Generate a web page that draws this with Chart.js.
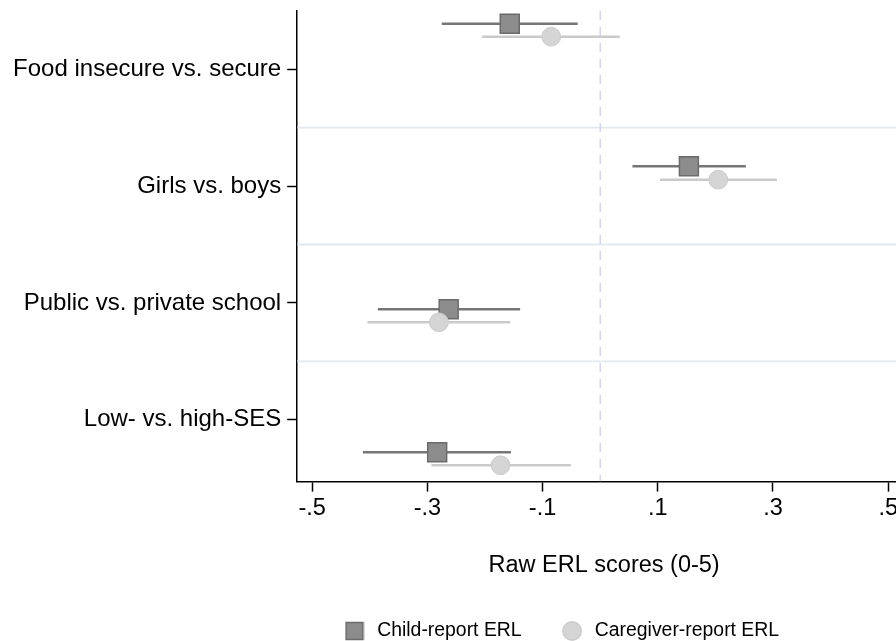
<!DOCTYPE html>
<html>
<head>
<meta charset="utf-8">
<script src="https://cdn.jsdelivr.net/npm/chart.js@4.4.0/dist/chart.umd.min.js"></script>
<style>
html, body { margin: 0; padding: 0; background: #fff; overflow: hidden; }
/* the original plot runs on past the right edge of the picture */
#wrap { width: 911px; height: 641px; }
</style>
</head>
<body>
<div id="wrap"><canvas id="chart" width="911" height="641"></canvas></div>
<script>
// rows on the y axis (0 at top, one unit per group)
var categories = ['Food insecure vs. secure', 'Girls vs. boys', 'Public vs. private school', 'Low- vs. high-SES']
var categoryPos = [0.5, 1.5, 2.5, 3.5]
var separatorPos = [1, 2, 3]

var seriesNames = ['Child-report ERL', 'Caregiver-report ERL']

// child report: estimate, CI low, CI high, row position
var childEst = [-0.157, 0.154, -0.263, -0.283]
var childLo = [-0.275, 0.056, -0.386, -0.412]
var childHi = [-0.039, 0.253, -0.139, -0.155]
var childPos = [0.11, 1.33, 2.555, 3.779]

// caregiver report
var careEst = [-0.085, 0.205, -0.280, -0.173]
var careLo = [-0.205, 0.104, -0.404, -0.293]
var careHi = [0.034, 0.307, -0.156, -0.051]
var carePos = [0.221, 1.445, 2.666, 3.89]

var xTickValues = [-0.5, -0.3, -0.1, 0.1, 0.3, 0.5]
var xTickLabels = ['-.5', '-.3', '-.1', '.1', '.3', '.5']
var refLine = 0

var xMin = -0.526
var xMax = 0.5396
var yMin = 0
var yMax = 4.03

var font = '"Liberation Sans", Arial, Helvetica, sans-serif'
var darkFill = '#8c8c8c'
var darkEdge = '#6b6b6b'
var darkLine = '#767676'
var lightFill = '#d5d5d5'
var lightEdge = '#cbcbcb'
var lightLine = '#cacaca'
var legendFont = 19.4

function points(xs, ys) {
    return xs.map((x, i) => ({x: x, y: ys[i]}))
}

function segments(lo, hi, pos) {
    var pts = []
    lo.forEach((v, i) => {
        pts.push({x: v, y: pos[i]}, {x: hi[i], y: pos[i]}, {x: null, y: null})
    })
    return pts
}

function icon(kind) {
    var c = document.createElement('canvas')
    c.width = 20
    c.height = 20
    var g = c.getContext('2d')
    g.lineWidth = 1.5
    if (kind === 'rect') {
        g.fillStyle = darkFill
        g.strokeStyle = darkEdge
        g.fillRect(1, 1, 18, 18)
        g.strokeRect(1.5, 1.5, 17, 17)
    } else {
        g.fillStyle = lightFill
        g.strokeStyle = lightEdge
        g.beginPath()
        g.arc(10, 10, 9.2, 0, Math.PI * 2)
        g.fill()
        g.stroke()
    }
    return c
}

// put the legend where the original has it (left of centre, at the bottom edge)
var legendShift = {
    id: 'legendShift',
    afterLayout: function (chart) {
        var lg = chart.legend
        var pad = lg.options.labels.padding
        var x0 = (lg.left + pad + lg.right - lg.lineWidths[0]) / 2
        var dx = 341.5 - x0
        lg.left += dx
        lg.right += dx
        var dy = 631 - (lg.top + pad + legendFont / 2)
        lg.top += dy
        lg.bottom += dy
    }
}

var sqIcon = icon('rect')
var ciIcon = icon('circle')

new Chart(document.getElementById('chart'), {
    type: 'scatter',
    data: {
        datasets: [
            {
                label: 'sep',
                data: separatorPos.flatMap(p => [{x: xMin, y: p}, {x: xMax, y: p}, {x: null, y: null}]),
                showLine: true, borderColor: '#e3e9ed', borderWidth: 1.8,
                pointRadius: 0, pointHoverRadius: 0, order: 10
            },
            {
                label: 'zero',
                data: [{x: refLine, y: yMin}, {x: refLine, y: yMax}],
                showLine: true, borderColor: '#c9c9e6', borderWidth: 1.2, borderDash: [9, 7],
                pointRadius: 0, pointHoverRadius: 0, order: 9
            },
            {
                label: 'childCI',
                data: segments(childLo, childHi, childPos),
                showLine: true, borderColor: darkLine, borderWidth: 2.5,
                pointRadius: 0, pointHoverRadius: 0, order: 8
            },
            {
                label: seriesNames[0],
                data: points(childEst, childPos),
                pointStyle: 'rect', pointRadius: 13.4, pointHoverRadius: 13.4,
                backgroundColor: darkFill, borderColor: darkEdge, borderWidth: 1.5, order: 7
            },
            {
                label: 'careCI',
                data: segments(careLo, careHi, carePos),
                showLine: true, borderColor: lightLine, borderWidth: 2.5,
                pointRadius: 0, pointHoverRadius: 0, order: 6
            },
            {
                label: seriesNames[1],
                data: points(careEst, carePos),
                pointStyle: 'circle', pointRadius: 9.4, pointHoverRadius: 9.4,
                backgroundColor: lightFill, borderColor: lightEdge, borderWidth: 1, order: 5
            }
        ]
    },
    options: {
        responsive: false,
        animation: false,
        devicePixelRatio: 1,
        layout: {autoPadding: false, padding: {top: 10.9, left: 0, right: 0, bottom: 0}},
        scales: {
            x: {
                type: 'linear',
                min: xMin,
                max: xMax,
                afterBuildTicks: function (scale) {
                    scale.ticks = xTickValues.map(v => ({value: v}))
                },
                afterFit: function (scale) {
                    scale.height = 641 - scale.chart.legend.height - 481.6
                    scale.paddingLeft = 0
                    scale.paddingRight = 0
                },
                ticks: {
                    autoSkip: false, maxRotation: 0, padding: 3, color: '#000',
                    font: {family: font, size: 23.5},
                    callback: function (v) { return xTickLabels[xTickValues.indexOf(v)] }
                },
                grid: {drawOnChartArea: false, tickLength: 10, tickColor: '#000', tickWidth: 1.5},
                border: {color: '#000', width: 1.5},
                title: {
                    display: true, text: 'Raw ERL scores (0-5)', color: '#000',
                    font: {family: font, size: 23.5, lineHeight: 1},
                    padding: {top: 0, bottom: -3}
                }
            },
            y: {
                type: 'linear',
                reverse: true,
                min: yMin,
                max: yMax,
                afterBuildTicks: function (scale) {
                    scale.ticks = categoryPos.map(v => ({value: v}))
                },
                afterFit: function (scale) {
                    scale.width = 297.2
                    scale.paddingTop = 0
                    scale.paddingBottom = 0
                },
                ticks: {
                    autoSkip: false, padding: 6, color: '#000',
                    font: {family: font, size: 24},
                    callback: function (v) { return categories[categoryPos.indexOf(v)] }
                },
                grid: {drawOnChartArea: false, tickLength: 10, tickColor: '#000', tickWidth: 1.5},
                border: {color: '#000', width: 1.5}
            }
        },
        plugins: {
            tooltip: {enabled: false},
            legend: {
                position: 'bottom',
                labels: {
                    usePointStyle: true,
                    pointStyleWidth: 26,
                    boxHeight: legendFont,
                    padding: 37.5,
                    color: '#1a1a1a',
                    font: {family: font, size: legendFont},
                    generateLabels: function () {
                        return [
                            {text: seriesNames[0], pointStyle: sqIcon, fillStyle: darkFill, strokeStyle: darkEdge, lineWidth: 0, hidden: false, datasetIndex: 3},
                            {text: seriesNames[1], pointStyle: ciIcon, fillStyle: lightFill, strokeStyle: lightEdge, lineWidth: 0, hidden: false, datasetIndex: 5}
                        ]
                    }
                }
            }
        }
    },
    plugins: [legendShift]
})
</script>
</body>
</html>
